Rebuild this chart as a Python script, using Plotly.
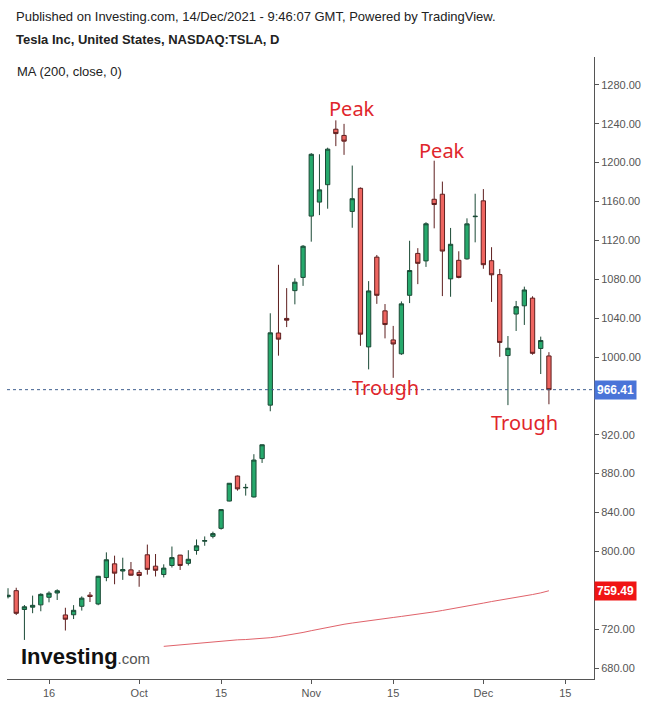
import plotly.graph_objects as go

dates = [
    "2021-09-09", "2021-09-10", "2021-09-13", "2021-09-14", "2021-09-15", "2021-09-16", "2021-09-17",
    "2021-09-20", "2021-09-21", "2021-09-22", "2021-09-23", "2021-09-24", "2021-09-27", "2021-09-28",
    "2021-09-29", "2021-09-30", "2021-10-01", "2021-10-04", "2021-10-05", "2021-10-06", "2021-10-07",
    "2021-10-08", "2021-10-11", "2021-10-12", "2021-10-13", "2021-10-14", "2021-10-15", "2021-10-18",
    "2021-10-19", "2021-10-20", "2021-10-21", "2021-10-22", "2021-10-25", "2021-10-26", "2021-10-27",
    "2021-10-28", "2021-10-29", "2021-11-01", "2021-11-02", "2021-11-03", "2021-11-04", "2021-11-05",
    "2021-11-08", "2021-11-09", "2021-11-10", "2021-11-11", "2021-11-12", "2021-11-15", "2021-11-16",
    "2021-11-17", "2021-11-18", "2021-11-19", "2021-11-22", "2021-11-23", "2021-11-24", "2021-11-26",
    "2021-11-29", "2021-11-30", "2021-12-01", "2021-12-02", "2021-12-03", "2021-12-06", "2021-12-07",
    "2021-12-08", "2021-12-09", "2021-12-10", "2021-12-13",
]
open_ = [
    753.4, 759.6, 740.2, 742.6, 745.0, 752.8, 757.2, 734.6, 734.8, 743.5, 755.0, 745.9, 773.1, 787.2,
    779.8, 781.0, 778.4, 796.5, 784.8, 776.2, 785.5, 796.2, 787.7, 800.9, 810.5, 815.5, 823.7, 851.8,
    877.5, 865.4, 856.0, 895.5, 950.5, 1024.7, 1039.7, 1068.3, 1081.9, 1145.0, 1159.4, 1177.3, 1234.4,
    1228.0, 1149.8, 1173.6, 1010.4, 1102.8, 1047.5, 1017.6, 1003.3, 1063.5, 1106.6, 1098.9, 1162.3,
    1167.5, 1080.4, 1099.5, 1101.0, 1144.4, 1160.7, 1099.1, 1084.8, 1001.5, 1044.2, 1052.7, 1060.6,
    1008.8, 1001.1,
]
high = [
    762.1, 762.6, 744.8, 754.5, 756.9, 758.9, 761.0, 742.0, 744.7, 753.7, 758.2, 774.8, 799.0, 795.6,
    793.5, 789.1, 780.8, 807.0, 797.3, 786.7, 805.0, 796.4, 801.2, 812.3, 815.4, 820.3, 843.2, 870.0,
    878.0, 869.5, 900.0, 910.0, 1045.0, 1094.9, 1070.9, 1081.0, 1115.2, 1209.8, 1208.6, 1215.4, 1243.5,
    1239.9, 1197.0, 1174.5, 1078.1, 1105.0, 1054.5, 1032.0, 1057.2, 1119.6, 1112.0, 1138.7, 1202.0,
    1180.5, 1132.8, 1108.8, 1142.7, 1168.0, 1172.8, 1113.0, 1090.6, 1021.6, 1057.7, 1072.4, 1062.5,
    1021.0, 1005.0,
]
low = [
    751.6, 734.5, 708.9, 736.4, 738.4, 747.6, 750.0, 718.6, 730.4, 739.1, 747.9, 744.6, 769.3, 766.2,
    770.7, 775.0, 763.6, 776.1, 774.2, 773.2, 783.4, 780.9, 785.5, 796.6, 805.8, 813.4, 822.4, 851.5,
    862.5, 857.4, 855.5, 891.0, 944.2, 1001.4, 1030.8, 1054.2, 1073.2, 1118.7, 1146.0, 1152.6, 1217.0,
    1208.0, 1133.0, 1011.5, 987.3, 1054.7, 1019.2, 978.6, 1002.2, 1055.5, 1075.0, 1092.7, 1132.4,
    1062.7, 1062.0, 1081.0, 1100.2, 1118.0, 1090.8, 1056.7, 1000.2, 950.5, 1026.8, 1033.0, 1002.4,
    982.5, 951.4,
]
close = [
    754.9, 736.3, 743.0, 744.5, 755.8, 757.0, 759.5, 730.2, 739.4, 751.9, 753.6, 774.4, 791.4, 777.6,
    781.3, 775.5, 775.2, 781.5, 780.6, 782.8, 793.6, 785.5, 791.9, 805.7, 811.1, 818.3, 843.0, 870.1,
    864.3, 865.8, 894.0, 909.7, 1024.9, 1018.4, 1037.9, 1077.0, 1114.0, 1208.6, 1172.0, 1213.9, 1229.9,
    1222.1, 1162.9, 1023.5, 1068.0, 1063.5, 1033.4, 1013.4, 1054.7, 1089.0, 1096.4, 1137.1, 1156.9,
    1109.0, 1116.0, 1081.9, 1137.0, 1144.8, 1095.0, 1084.6, 1015.0, 1009.0, 1051.8, 1069.0, 1003.8,
    1017.0, 966.41,
]

ma_dates = dates[19:]
ma_values = [
    702.3, 703.0, 703.8, 704.5, 705.5, 706.4, 707.2, 708.0, 708.5, 709.0, 709.3, 709.8, 710.3, 711.2,
    712.3, 713.6, 715.0, 716.6, 718.4, 720.2, 722.0, 723.6, 725.0, 726.3, 727.6, 728.7, 729.8, 730.9,
    732.0, 733.1, 734.1, 735.2, 736.3, 737.8, 739.2, 740.6, 742.0, 743.5, 745.2, 746.8, 748.4, 749.7,
    751.1, 752.5, 754.0, 755.6, 757.3, 759.49,
]

x_tick_vals = ["2021-09-16", "2021-10-01", "2021-10-15", "2021-11-01", "2021-11-15", "2021-12-01", "2021-12-15"]
x_tick_text = ["16", "Oct", "15", "Nov", "15", "Dec", "15"]
y_tick_vals = [680, 720, 760, 800, 840, 880, 920, 960, 1000, 1040, 1080, 1120, 1160, 1200, 1240, 1280]
# labels hidden behind the price boxes in the reference
y_tick_text = ["" if v in (760, 960) else f"{v:.2f}" for v in y_tick_vals]

last_price = 966.41
ma_last = 759.49

labels = [
    ("Peak", "2021-11-08", 1256),
    ("Peak", "2021-11-23", 1213),
    ("Trough", "2021-11-12", 969),
    ("Trough", "2021-12-08", 933),
]

fig = go.Figure()
fig.add_trace(go.Candlestick(
    x=dates, open=open_, high=high, low=low, close=close,
    increasing=dict(fillcolor="#26a96c", line=dict(color="#1b4a36", width=1)),
    decreasing=dict(fillcolor="#ee6560", line=dict(color="#5e1f1f", width=1)),
    whiskerwidth=0, showlegend=False, hoverinfo="skip",
))
fig.add_trace(go.Scatter(
    x=ma_dates, y=ma_values, mode="lines",
    line=dict(color="#e0626a", width=1), showlegend=False, hoverinfo="skip",
))

axis_font = dict(family="Liberation Sans, Arial, sans-serif", size=11, color="#555555")

fig.update_layout(
    width=659, height=706,
    margin=dict(l=7, r=65, t=57, b=25),
    paper_bgcolor="white", plot_bgcolor="white",
    font=dict(family="Liberation Sans, Arial, sans-serif"),
    boxgap=0.25,
    xaxis=dict(
        type="date",
        range=["2021-09-08 21:00", "2021-12-20 12:00"],
        rangebreaks=[dict(bounds=["sat", "mon"]), dict(values=["2021-11-25"])],
        rangeslider=dict(visible=False),
        tickmode="array", tickvals=x_tick_vals, ticktext=x_tick_text,
        ticks="outside", ticklen=4, tickcolor="#555555",
        showline=True, linecolor="#555555", linewidth=1,
        showgrid=False, zeroline=False, tickfont=axis_font,
    ),
    yaxis=dict(
        side="right",
        range=[668.7, 1308.7],
        tickmode="array", tickvals=y_tick_vals, ticktext=y_tick_text,
        ticks="outside", ticklen=4, tickcolor="#555555",
        showline=True, linecolor="#555555", linewidth=1,
        showgrid=False, zeroline=False, tickfont=axis_font,
    ),
)

fig.add_shape(type="line", xref="paper", x0=0, x1=1, yref="y", y0=last_price, y1=last_price,
              line=dict(color="#3f5f8f", width=1, dash="dot"))

annotations = []
annotations.append(dict(xref="paper", x=1.0, xanchor="left", yref="y", y=last_price, yanchor="middle",
                        text="<b>966.41</b>", showarrow=False, bgcolor="#4a74d8", borderpad=2,
                        font=dict(color="white", size=12, family="Liberation Sans, Arial, sans-serif")))
annotations.append(dict(xref="paper", x=1.0, xanchor="left", yref="y", y=ma_last, yanchor="middle",
                        text="<b>759.49</b>", showarrow=False, bgcolor="#f01414", borderpad=2,
                        font=dict(color="white", size=12, family="Liberation Sans, Arial, sans-serif")))
for txt, xd, yv in labels:
    annotations.append(dict(x=xd, y=yv, xref="x", yref="y", text=txt, showarrow=False,
                            font=dict(color="#e0262c", size=20, family="Noto Sans, sans-serif")))

hdr = "Liberation Sans, Arial, sans-serif"
annotations.append(dict(xref="paper", yref="paper", x=(14 - 7) / 587, y=1 + (57 - 16) / 624, xanchor="left", yanchor="middle",
                        text="Published on Investing.com, 14/Dec/2021 - 9:46:07 GMT, Powered by TradingView.",
                        showarrow=False, font=dict(size=13, color="#222222", family=hdr)))
annotations.append(dict(xref="paper", yref="paper", x=(14 - 7) / 587, y=1 + (57 - 39) / 624, xanchor="left", yanchor="middle",
                        text="<b>Tesla Inc, United States, NASDAQ:TSLA, D</b>",
                        showarrow=False, font=dict(size=13, color="#222222", family=hdr)))
annotations.append(dict(xref="paper", yref="paper", x=(15 - 7) / 587, y=1 - (72 - 57) / 624, xanchor="left", yanchor="middle",
                        text="MA (200, close, 0)",
                        showarrow=False, font=dict(size=13, color="#222222", family=hdr)))
annotations.append(dict(xref="paper", yref="paper", x=(19 - 7) / 587, y=-(658 - 681) / 624, xanchor="left", yanchor="middle",
                        text="<b>Investing</b><span style='font-size:15px;color:#555555'>.com</span>",
                        showarrow=False, font=dict(size=22, color="#111111", family=hdr)))
fig.update_layout(annotations=annotations)

fig.write_html("out.html", config={"displayModeBar": False},
               post_script="document.body.style.margin='0';document.body.style.overflow='hidden';")
